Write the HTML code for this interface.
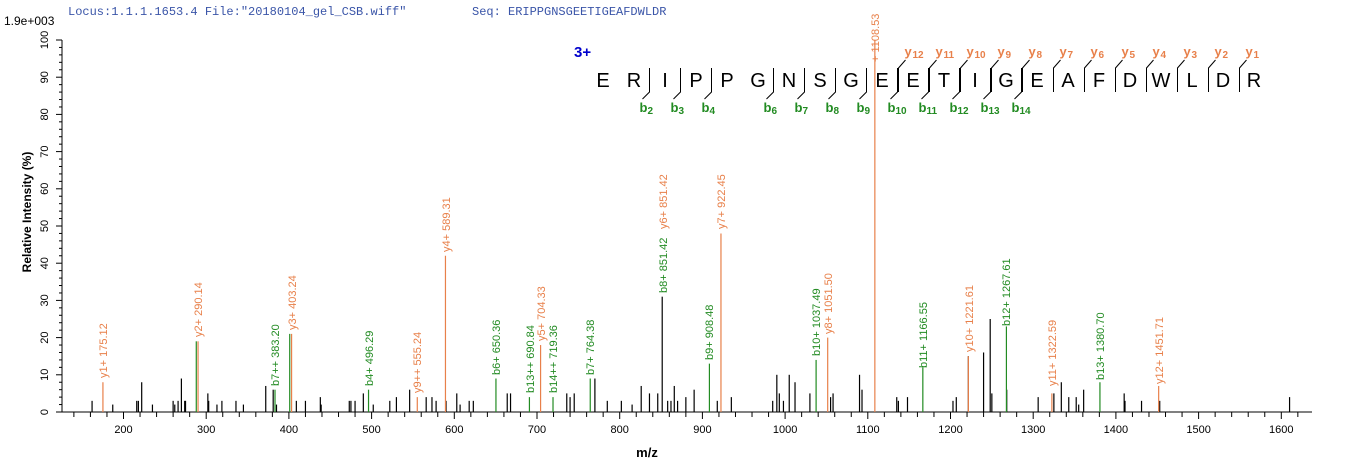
<!DOCTYPE html>
<html><head><meta charset="utf-8"><style>
html,body{margin:0;padding:0;background:#fff;}
svg{display:block;font-family:"Liberation Sans",Arial,sans-serif;}
</style></head><body>
<svg id="s" width="1362" height="473" xmlns="http://www.w3.org/2000/svg">
<text x="68" y="15" font-family="Liberation Mono,monospace" font-size="12" fill="#3a55a8">Locus:1.1.1.1653.4 File:"20180104_gel_CSB.wiff"</text>
<text x="472" y="15" font-family="Liberation Mono,monospace" font-size="12" fill="#3a55a8">Seq: ERIPPGNSGEETIGEAFDWLDR</text>
<text x="4" y="25" font-size="12" fill="#000">1.9e+003</text>
<text transform="translate(31,212) rotate(-90)" text-anchor="middle" font-size="12" font-weight="bold">Relative   Intensity (%)</text>
<text x="647" y="457" text-anchor="middle" font-size="13" font-weight="bold">m/z</text>
<g id="ax" stroke="#000" stroke-width="1"></g>
<g id="pk" stroke-width="1.2"></g>
<g font-size="11" fill="#000" id="yl"></g>
<g font-size="11">
<g fill="#e8804a">
<text transform="translate(107,378) rotate(-90)">y1+ 175.12</text>
<text transform="translate(202,337) rotate(-90)">y2+ 290.14</text>
<text transform="translate(296,330) rotate(-90)">y3+ 403.24</text>
<text transform="translate(421,393) rotate(-90)">y9++ 555.24</text>
<text transform="translate(450,252) rotate(-90)">y4+ 589.31</text>
<text transform="translate(545,341) rotate(-90)">y5+ 704.33</text>
<text transform="translate(667,229) rotate(-90)">y6+ 851.42</text>
<text transform="translate(725,229) rotate(-90)">y7+ 922.45</text>
<text transform="translate(832,334) rotate(-90)">y8+ 1051.50</text>
<text transform="translate(879,62) rotate(-90)">+ 1108.53</text>
<text transform="translate(973,352) rotate(-90)">y10+ 1221.61</text>
<text transform="translate(1056,386) rotate(-90)">y11+ 1322.59</text>
<text transform="translate(1163,384) rotate(-90)">y12+ 1451.71</text>
</g>
<g fill="#228b22">
<text transform="translate(279,386) rotate(-90)">b7++ 383.20</text>
<text transform="translate(373,386) rotate(-90)">b4+ 496.29</text>
<text transform="translate(500,375) rotate(-90)">b6+ 650.36</text>
<text transform="translate(534,393) rotate(-90)">b13++ 690.84</text>
<text transform="translate(557,393) rotate(-90)">b14++ 719.36</text>
<text transform="translate(594,375) rotate(-90)">b7+ 764.38</text>
<text transform="translate(667,293) rotate(-90)">b8+ 851.42</text>
<text transform="translate(713,360) rotate(-90)">b9+ 908.48</text>
<text transform="translate(820,356) rotate(-90)">b10+ 1037.49</text>
<text transform="translate(927,368) rotate(-90)">b11+ 1166.55</text>
<text transform="translate(1010,326) rotate(-90)">b12+ 1267.61</text>
<text transform="translate(1104,380) rotate(-90)">b13+ 1380.70</text>
</g>
</g>
<text x="574" y="57" font-size="15" font-weight="bold" fill="#0000cc">3+</text>
<g id="seq" font-size="20" text-anchor="middle"></g>
<g id="seqm" stroke="#000" stroke-width="1" fill="none"></g>
<g font-size="13" font-weight="bold" fill="#228b22" id="bl"></g>
<g font-size="13" font-weight="bold" fill="#e8804a" id="ylab"></g>
</svg>
<script>
var NS="http://www.w3.org/2000/svg";
function el(p,t,a,txt){var e=document.createElementNS(NS,t);for(var k in a)e.setAttribute(k,a[k]);if(txt!=null)e.textContent=txt;document.getElementById(p).appendChild(e);return e;}
function X(m){return 123.5+(m-200)*0.827;}
function Y(v){return 412-v*3.72;}
el('ax','line',{x1:62,y1:40,x2:62,y2:412});
el('ax','line',{x1:62,y1:412,x2:1312,y2:412});
for(var v=0;v<=100;v+=2){var mj=v%10==0;el('ax','line',{x1:mj?56:59,y1:Y(v),x2:62,y2:Y(v)});}
for(var v=0;v<=100;v+=10){el('yl','text',{transform:'translate(48,'+Y(v)+') rotate(-90)','text-anchor':'middle'},String(v));}
for(var m=140;m<=1620;m+=20){var x=X(m);if(x<62||x>1312)continue;var mj=m%100==0;el('ax','line',{x1:x,y1:412,x2:x,y2:mj?419:417});
 if(mj) el('yl','text',{x:x,y:433,'text-anchor':'middle'},String(m));}
var blk=[[162,3],[187,2],[216,3],[218,3],[222,8],[235,2],[260,3],[262,2],[266,3],[270,9],[274,3],[275,3],[302,5],[303,3],[313,2],[319,3],[336,3],[345,2],[372,7],[381,6],[385,2],[409,3],[420,3],[438,4],[439,2],[473,3],[475,3],[480,3],[490,5],[502,2],[522,3],[530,4],[546,6],[566,4],[573,4],[578,3],[590,3],[603,5],[607,2],[618,3],[623,3],[664,5],[668,5],[736,5],[740,4],[745,5],[770,9],[785,3],[802,3],[815,2],[826,7],[836,5],[846,5],[851.4,31],[858,3],[862,3],[866,7],[870,3],[880,4],[890,6],[918,3],[935,4],[985,3],[990,10],[993,5],[998,3],[1005,10],[1012,8],[1030,5],[1055,4],[1058,5],[1090,10],[1093,6],[1135,4],[1137,3],[1148,4],[1203,3],[1207,4],[1221.6,15],[1240,16],[1248,25],[1250,5],[1268,6],[1306,4],[1325,5],[1334,8],[1343,4],[1352,4],[1355,2],[1361,6],[1410,5],[1411,3],[1431,3],[1453,3],[1610,4]];
blk.forEach(function(p){el('pk','line',{x1:X(p[0]),y1:412,x2:X(p[0]),y2:Y(p[1]),stroke:'#000'});});
var ora=[[175.12,8],[290.14,19],[403.24,21],[555.24,4],[589.31,42],[704.33,18],[922.45,48],[1051.50,20],[1108.53,100],[1221.61,15],[1322.59,5],[1451.71,7]];
ora.forEach(function(p){el('pk','line',{x1:X(p[0]),y1:412,x2:X(p[0]),y2:Y(p[1]),stroke:'#e8804a'});});
var grn=[[288,19],[383.2,6],[401,21],[496.29,6],[650.36,9],[690.84,4],[719.36,4],[764.38,9],[908.48,13],[1037.49,14],[1166.55,12],[1267.61,23],[1380.70,8]];
grn.forEach(function(p){el('pk','line',{x1:X(p[0]),y1:412,x2:X(p[0]),y2:Y(p[1]),stroke:'#228b22'});});
var s="ERIPPGNSGEETIGEAFDWLDR";
for(var i=0;i<s.length;i++){el('seq','text',{x:603+31*i,y:87},s[i]);}
var bs=[2,3,4,6,7,8,9,10,11,12,13,14];
bs.forEach(function(b){var x=603+31*(b-0.5);el('seqm','path',{d:'M'+x+' 68 V92 L'+(x-7)+' 99'});el('bl','text',{x:x-10,y:112},'b');el('bl','text',{x:x-2,y:114,'font-size':10},String(b));});
for(var k=1;k<=12;k++){var i=s.length-k;var x=603+31*(i-0.5);el('seqm','path',{d:'M'+(x+1)+' 92 V68 L'+(x+8)+' 60'});el('ylab','text',{x:x+7,y:56},'y');el('ylab','text',{x:x+15,y:58,'font-size':10},String(k));}
</script>
</body></html>
